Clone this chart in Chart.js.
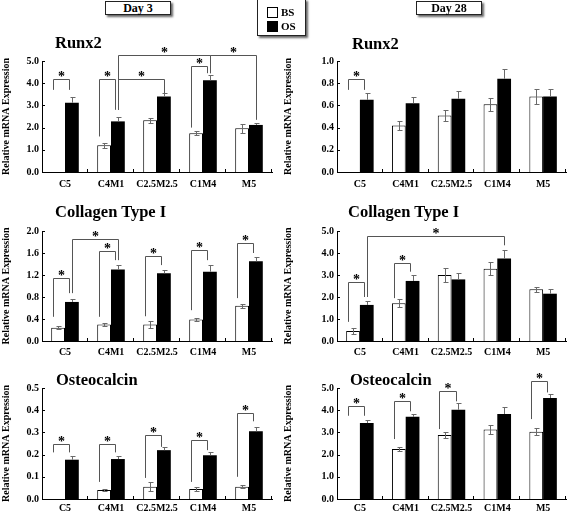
<!DOCTYPE html>
<html>
<head>
<meta charset="utf-8">
<script src="https://cdn.jsdelivr.net/npm/chart.js"></script>
<style>
body { margin: 0; background: #fff; font-family: "Liberation Serif", "Times New Roman", serif; font-weight: bold; }
#page { position: relative; width: 567px; height: 513px; overflow: hidden; }
canvas { position: absolute; }
.title { position: absolute; font-size: 16.5px; line-height: 16.5px; white-space: nowrap; z-index: 2; }
.daybox { position: absolute; top: 1px; width: 64px; height: 12px; border: 1px solid #222; box-shadow: 2px 2px 2px #666;
  font-size: 12px; line-height: 13px; text-align: center; background: #fff; z-index: 2; }
#legend { position: absolute; left: 257px; top: -1px; width: 47px; height: 35px; border: 1px solid #222;
  box-shadow: 2px 2px 2px #666; background: #fff; z-index: 2; font-size: 11px; }
#legend .sw { position: absolute; left: 9px; width: 9px; height: 9px; border: 1px solid #000; }
#legend .lb { position: absolute; left: 23px; line-height: 11px; }
</style>
</head>
<body>
<div id="page">
  <div class="daybox" style="left:105px">Day 3</div>
  <div class="daybox" style="left:416px">Day 28</div>
  <div id="legend">
    <div class="sw" style="top:7px;background:#fff"></div><div class="lb" style="top:7px">BS</div>
    <div class="sw" style="top:21px;background:#000"></div><div class="lb" style="top:21px">OS</div>
  </div>
  <div class="title" style="left:55px;top:35px">Runx2</div>
  <div class="title" style="left:352px;top:36px">Runx2</div>
  <div class="title" style="left:55px;top:204px">Collagen Type I</div>
  <div class="title" style="left:348px;top:204px">Collagen Type I</div>
  <div class="title" style="left:56px;top:372px">Osteocalcin</div>
  <div class="title" style="left:350px;top:372px">Osteocalcin</div>
</div>
<script>
var groups = ["C5", "C4M1", "C2.5M2.5", "C1M4", "M5"];
var seriesNames = ["BS", "OS"];
var yTitle = "Relative mRNA Expression";

// significance brackets: [group A, series A, group B, series B, bracket level, foot A, foot B]
var runx2D3BS = [0, 1.2, 2.33, 1.75, 1.97];
var runx2D3BSErr = [0, 0.12, 0.12, 0.1, 0.2];
var runx2D3OS = [3.12, 2.28, 3.4, 4.13, 2.12];
var runx2D3OSErr = [0.28, 0.18, 0.15, 0.22, 0.1];
var runx2D3Sig = [
    [0, 0, 0, 1, 4.2, 3.7, 3.7],
    [1, 0, 1, 1, 4.2, 1.6, 2.8],
    [1, 1, 2, 1, 4.2, 2.8, 3.55],
    [1, 1, 3, 1, 5.27, 2.8, 4.45],
    [3, 0, 3, 1, 4.78, 2.0, 4.45],
    [3, 1, 4, 1, 5.27, 4.45, 2.35]
];

var runx2D28BS = [0, 0.42, 0.51, 0.61, 0.68];
var runx2D28BSErr = [0, 0.04, 0.05, 0.06, 0.07];
var runx2D28OS = [0.65, 0.62, 0.66, 0.84, 0.68];
var runx2D28OSErr = [0.06, 0.06, 0.07, 0.09, 0.07];
var runx2D28Sig = [
    [0, 0, 0, 1, 0.84, 0.74, 0.74]
];

var colD3BS = [0.24, 0.3, 0.3, 0.39, 0.64];
var colD3BSErr = [0.03, 0.03, 0.06, 0.02, 0.04];
var colD3OS = [0.71, 1.3, 1.23, 1.26, 1.45];
var colD3OSErr = [0.06, 0.09, 0.06, 0.12, 0.08];
var colD3Sig = [
    [0, 0, 0, 1, 1.15, 0.44, 0.87],
    [0, 1, 1, 1, 1.85, 0.87, 1.47],
    [1, 0, 1, 1, 1.64, 0.44, 1.47],
    [2, 0, 2, 1, 1.55, 0.45, 1.38],
    [3, 0, 3, 1, 1.65, 0.56, 1.47],
    [4, 0, 4, 1, 1.78, 0.78, 1.6]
];

var colD28BS = [0.45, 1.72, 3.0, 3.28, 2.35];
var colD28BSErr = [0.15, 0.18, 0.3, 0.3, 0.1];
var colD28OS = [1.64, 2.73, 2.8, 3.75, 2.15];
var colD28OSErr = [0.18, 0.28, 0.3, 0.37, 0.22];
var colD28Sig = [
    [0, 0, 0, 1, 2.7, 0.87, 2.0],
    [0, 1, 3, 1, 4.77, 2.0, 4.35],
    [1, 0, 1, 1, 3.55, 1.95, 3.15]
];

var ocnD3BS = [0, 0.04, 0.055, 0.045, 0.055];
var ocnD3BSErr = [0, 0.006, 0.02, 0.01, 0.006];
var ocnD3OS = [0.177, 0.18, 0.22, 0.197, 0.305];
var ocnD3OSErr = [0.015, 0.013, 0.015, 0.013, 0.02];
var ocnD3Sig = [
    [0, 0, 0, 1, 0.25, 0.21, 0.21],
    [1, 0, 1, 1, 0.25, 0.077, 0.21],
    [2, 0, 2, 1, 0.29, 0.095, 0.235],
    [3, 0, 3, 1, 0.266, 0.077, 0.22],
    [4, 0, 4, 1, 0.387, 0.1, 0.35]
];

var ocnD28BS = [0, 2.25, 2.88, 3.13, 3.03];
var ocnD28BSErr = [0, 0.08, 0.12, 0.2, 0.15];
var ocnD28OS = [3.42, 3.7, 4.02, 3.83, 4.55];
var ocnD28OSErr = [0.12, 0.14, 0.3, 0.3, 0.18];
var ocnD28Sig = [
    [0, 0, 0, 1, 4.2, 3.75, 3.75],
    [1, 0, 1, 1, 4.4, 2.7, 3.95],
    [2, 0, 2, 1, 4.87, 3.15, 4.4],
    [4, 0, 4, 1, 5.3, 3.6, 4.8]
];

Chart.defaults.font.family = '"Liberation Serif", "Times New Roman", serif';
Chart.defaults.color = '#000';

// inward ticks, error bars and significance brackets
var marks = {
    id: 'marks',
    afterDatasetsDraw: function(chart, args, opts) {
        var ctx = chart.ctx, xs = chart.scales.x, ys = chart.scales.y, area = chart.chartArea;
        var n = chart.data.labels.length;
        ctx.save();
        ctx.lineWidth = 1;
        ctx.strokeStyle = '#000';
        ctx.beginPath();
        ys.ticks.forEach(function(t) {
            var py = Math.round(ys.getPixelForValue(t.value)) + 0.5;
            ctx.moveTo(area.left, py);
            ctx.lineTo(area.left + 3, py);
        });
        for (var i = 1; i <= n; i++) {
            var px = i < n ? (xs.getPixelForValue(i - 1) + xs.getPixelForValue(i)) / 2 : area.right;
            px = Math.round(px) - 0.5;
            ctx.moveTo(px, area.bottom);
            ctx.lineTo(px, area.bottom - 3);
        }
        ctx.stroke();

        ctx.strokeStyle = '#6a6a6a';
        ctx.beginPath();
        opts.errors.forEach(function(errs, d) {
            var meta = chart.getDatasetMeta(d);
            var vals = chart.data.datasets[d].data;
            meta.data.forEach(function(bar, i) {
                if (!errs[i]) return;
                var cx = Math.round(bar.x) + 0.5;
                var top = Math.round(ys.getPixelForValue(vals[i] + errs[i])) + 0.5;
                var bot = d === 0 ? Math.round(ys.getPixelForValue(vals[i] - errs[i])) + 0.5
                                  : ys.getPixelForValue(vals[i]);
                ctx.moveTo(cx, bot); ctx.lineTo(cx, top);
                ctx.moveTo(cx - 2, top); ctx.lineTo(cx + 3, top);
                if (d === 0) { ctx.moveTo(cx - 2, bot); ctx.lineTo(cx + 3, bot); }
            });
        });
        ctx.stroke();

        function endX(g, s, pair) {
            var bar = chart.getDatasetMeta(s).data[g];
            if (s === 0) return bar.x - bar.width * 0.38;
            return pair ? bar.x - bar.width * 0.2 : bar.x;
        }
        ctx.strokeStyle = '#555';
        ctx.fillStyle = '#000';
        ctx.font = 'bold 14px "Liberation Serif", serif';
        ctx.textAlign = 'center';
        ctx.textBaseline = 'alphabetic';
        opts.brackets.forEach(function(b) {
            var pair = b[0] === b[2];
            var x1 = Math.round(endX(b[0], b[1], pair)) + 0.5;
            var x2 = Math.round(endX(b[2], b[3], pair)) + 0.5;
            var yt = Math.round(ys.getPixelForValue(b[4])) + 0.5;
            ctx.beginPath();
            ctx.moveTo(x1, ys.getPixelForValue(b[5]));
            ctx.lineTo(x1, yt);
            ctx.lineTo(x2, yt);
            ctx.lineTo(x2, ys.getPixelForValue(b[6]));
            ctx.stroke();
            ctx.fillText('*', (x1 + x2) / 2, yt + 1);
        });
        ctx.restore();
    }
};

function makePanel(p) {
    var canvas = document.createElement('canvas');
    canvas.width = p.w;
    canvas.height = p.h;
    canvas.style.left = p.left + 'px';
    canvas.style.top = p.top + 'px';
    document.getElementById('page').appendChild(canvas);
    var tickFont = {size: 10, weight: 'bold'};
    return new Chart(canvas, {
        type: 'bar',
        data: {
            labels: groups,
            datasets: [
                {label: seriesNames[0], data: p.bs, backgroundColor: '#fff', borderColor: '#000', borderWidth: 1,
                 categoryPercentage: 0.6, barPercentage: 1},
                {label: seriesNames[1], data: p.os, backgroundColor: '#000', borderColor: '#000', borderWidth: 0,
                 categoryPercentage: 0.6, barPercentage: 1}
            ]
        },
        options: {
            responsive: false,
            animation: false,
            layout: {padding: {top: p.padTop, right: p.padRight, bottom: 0, left: 0}},
            plugins: {
                legend: {display: false},
                tooltip: {enabled: false},
                marks: {errors: [p.bsErr, p.osErr], brackets: p.sig}
            },
            scales: {
                x: {
                    grid: {display: false, drawTicks: false},
                    border: {color: '#000', width: 1},
                    ticks: {font: tickFont, padding: p.labelPad, maxRotation: 0, autoSkip: false},
                    afterFit: function(s) { s.height = p.xH; }
                },
                y: {
                    min: 0, max: p.yMax,
                    grid: {display: false, drawTicks: false},
                    border: {color: '#000', width: 1},
                    ticks: {stepSize: p.yStep, font: tickFont, padding: 3,
                            callback: function(v) { return v.toFixed(1); }},
                    title: {display: true, text: yTitle, font: {size: 10, weight: 'bold'}, padding: 0},
                    afterFit: function(s) { s.width = p.axisW; }
                }
            }
        },
        plugins: [marks]
    });
}

makePanel({left: 0, top: 25, w: 285, h: 167, axisW: 42, padTop: 36, padRight: 13, xH: 20, labelPad: 6,
    yMax: 5, yStep: 1, bs: runx2D3BS, bsErr: runx2D3BSErr, os: runx2D3OS, osErr: runx2D3OSErr, sig: runx2D3Sig});
makePanel({left: 282, top: 25, w: 285, h: 167, axisW: 55, padTop: 36, padRight: 1, xH: 20, labelPad: 6,
    yMax: 1, yStep: 0.2, bs: runx2D28BS, bsErr: runx2D28BSErr, os: runx2D28OS, osErr: runx2D28OSErr, sig: runx2D28Sig});
makePanel({left: 0, top: 195, w: 285, h: 166, axisW: 42, padTop: 36, padRight: 13, xH: 20, labelPad: 5,
    yMax: 2, yStep: 0.4, bs: colD3BS, bsErr: colD3BSErr, os: colD3OS, osErr: colD3OSErr, sig: colD3Sig});
makePanel({left: 282, top: 195, w: 285, h: 166, axisW: 55, padTop: 36, padRight: 1, xH: 20, labelPad: 5,
    yMax: 5, yStep: 1, bs: colD28BS, bsErr: colD28BSErr, os: colD28OS, osErr: colD28OSErr, sig: colD28Sig});
makePanel({left: 0, top: 355, w: 285, h: 158, axisW: 42, padTop: 33, padRight: 13, xH: 14, labelPad: 3,
    yMax: 0.5, yStep: 0.1, bs: ocnD3BS, bsErr: ocnD3BSErr, os: ocnD3OS, osErr: ocnD3OSErr, sig: ocnD3Sig});
makePanel({left: 282, top: 355, w: 285, h: 158, axisW: 55, padTop: 33, padRight: 1, xH: 14, labelPad: 3,
    yMax: 5, yStep: 1, bs: ocnD28BS, bsErr: ocnD28BSErr, os: ocnD28OS, osErr: ocnD28OSErr, sig: ocnD28Sig});
</script>
</body>
</html>
